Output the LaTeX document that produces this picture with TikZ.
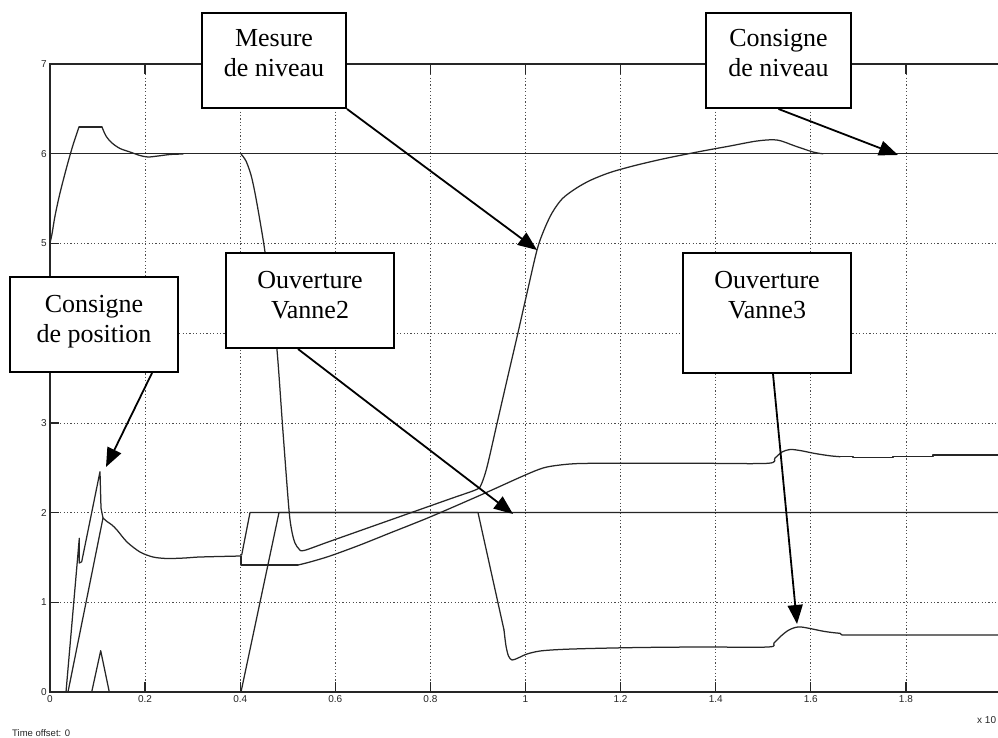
\documentclass[tikz,border=0pt]{standalone}
\usepackage{fontspec}
\setmainfont{Liberation Serif}
\newfontfamily\axisfont{Liberation Sans}
\usetikzlibrary{arrows.meta}
\begin{document}
\begin{tikzpicture}[x=1pt,y=-1pt,
  gridline/.style={draw=black!70, line width=0.8pt, dash pattern=on 1.2pt off 2.2pt},
  axisline/.style={draw=black!85, line width=1.3pt},
  trace/.style={draw=black!85, line width=1.25pt, line join=round, line cap=round},
  databox/.style={draw=black, line width=2pt, fill=white, rectangle, inner sep=0pt},
  boxtext/.style={font=\fontsize{26}{30}\selectfont, anchor=base, inner sep=0pt},
  ticklabel/.style={font=\axisfont\fontsize{10}{12}\selectfont, text=black!85, inner sep=0pt},
  pointer/.style={draw=black, line width=1.8pt, -{Triangle[length=19pt,width=15pt]}},
]
\useasboundingbox (0,0) rectangle (998,738);
\fill[white] (0,0) rectangle (998,738);

% grid (t = 0.2 steps, values 1..6)
\foreach \i in {1,...,9}
  \draw[gridline] ({50+95.1*\i},64) -- ({50+95.1*\i},692);
\foreach \j in {1,...,6}
  \draw[gridline] (50,{692-89.7*\j}) -- (998,{692-89.7*\j});

% axes and ticks
\draw[axisline] (998,64) -- (50,64) -- (50,692) -- (998,692);
\foreach \i in {1,...,9} {
  \draw[axisline] ({50+95.1*\i},692) -- ++(0,-10);
  \draw[axisline] ({50+95.1*\i},64) -- ++(0,10);
}
\foreach \j in {1,...,6}
  \draw[axisline] (50,{692-89.7*\j}) -- ++(9,0);

% tick labels
\foreach \i/\lab in {0/0,1/0.2,2/0.4,3/0.6,4/0.8,5/1,6/1.2,7/1.4,8/1.6,9/1.8}
  \node[ticklabel, anchor=north] (xl\i) at ({50+95.1*\i},695) {\lab};
\foreach \j in {0,1,2,3,5,6,7}
  \node[ticklabel, anchor=east] (yl\j) at (47,{692-89.7*\j}) {\j};
\node[ticklabel, anchor=base west, font=\axisfont\fontsize{9.5}{11}\selectfont] (toff) at (12,736) {Time offset: 0};
\node[ticklabel, anchor=west] (xexp) at (977,720) {x 10};

% level set point
\draw[trace] (50,153.8) -- (998,153.8);

% level measurement
\draw[trace] plot[smooth,tension=0.5] coordinates {(50,243) (52,234) (55,216) (60,193) (67,166) (73,145) (79,127)};
\draw[trace] (79,127) -- (102,127);
\draw[trace] plot[smooth,tension=0.5] coordinates {(102,127) (106,136) (112,143) (120,148.5) (130,152) (140,155.5) (148,157) (158,156) (170,154.5) (183,154)};
\draw[trace] plot[smooth,tension=0.5] coordinates {(241,154) (246,161) (251,175) (255,193) (260,221) (265,252) (271,300) (277,350) (283,432) (289,510) (292,532) (295,543) (299,549) (304,550.5) (330,541.3) (390,520.1) (450,498.9) (476,489.7) (481,485) (487,467) (497,423.5) (507,380) (517,337) (527,293) (537,250) (544,230) (552,213) (562,199) (575,189) (590,180.5) (610,172.5) (635,165.5) (665,158.5) (700,151.5) (730,146) (757,141) (777,140) (795,146) (813,152) (823,153.8)};

% position set point and response
\draw[trace] (66,692) -- (79.3,538.3) -- (79.3,563) -- (81.7,561.7) -- (100,471.7) -- (101,508) -- (103,518);
\draw[trace] (68,692) -- (103,518);
\draw[trace] plot[smooth,tension=0.5] coordinates {(103,518) (107,521.5) (112,525) (117,530) (127,542) (140,552) (153,557) (167,558.5) (185,558) (200,557) (241,556)};
\draw[trace] (241,556) -- (241,565) -- (298,565);
\draw[trace] plot[smooth,tension=0.5] coordinates {(298,565) (310,562) (330,556) (360,545) (390,533) (430,517) (483,494) (523,476) (543,468) (560,465) (580,463.5) (620,463.3) (700,463.3) (768,463.3) (775,458) (782,452) (790,449.5) (800,450.5) (815,453.5) (830,455.8) (840,456.7)};
\draw[trace] (840,456.7) -- (853,456.7) -- (853,457.7) -- (893,457.7) -- (893,456.7) -- (933,456.7) -- (933,455) -- (998,455);

% valve 2 opening
\draw[trace] (91.7,692) -- (100.7,650.7) -- (109.3,692) -- (241,692) -- (279,512.6) -- (998,512.6);

% valve 3 opening
\draw[trace] (241.7,555) -- (250,512.6) -- (478,512.6) -- (504,630);
\draw[trace] plot[smooth,tension=0.5] coordinates {(504,630) (506,646) (508.5,656) (512,660) (518,658) (527,654) (540,651) (560,649.5) (590,648.5) (640,647.5) (700,647) (768,647) (774,643) (781,636) (788,630.5) (795,627.5) (801,627) (810,628.5) (822,631) (832,632.5) (840,633.3)};
\draw[trace] (840,633.3) -- (842,635) -- (998,635);

% annotation boxes
\node[databox, minimum width=144pt, minimum height=95pt] (mes) at (274,60.5) {};
\node[boxtext] (mesA) at (274,47) {Mesure};
\node[boxtext] (mesB) at (274,77) {de niveau};

\node[databox, minimum width=145pt, minimum height=95pt] (cniv) at (778.5,60.5) {};
\node[boxtext] (cnivA) at (778.5,47) {Consigne};
\node[boxtext] (cnivB) at (778.5,77) {de niveau};

\node[databox, minimum width=168pt, minimum height=95pt] (v2) at (310,300.5) {};
\node[boxtext] (v2A) at (310,288) {Ouverture};
\node[boxtext] (v2B) at (310,318) {Vanne2};

\node[databox, minimum width=168pt, minimum height=120pt] (v3) at (767,313) {};
\node[boxtext] (v3A) at (767,288) {Ouverture};
\node[boxtext] (v3B) at (767,318) {Vanne3};

\node[databox, minimum width=168pt, minimum height=95pt] (pos) at (94,324.5) {};
\node[boxtext] (posA) at (94,312) {Consigne};
\node[boxtext] (posB) at (94,342) {de position};

% pointers
\coordinate (tipPos) at (106,467);
\coordinate (tipMes) at (537,250);
\coordinate (tipCniv) at (898,155);
\coordinate (tipV2) at (513,514);
\coordinate (tipV3) at (797,624);
\draw[pointer] ([xshift=58pt]pos.south) -- (tipPos);
\draw[pointer] (mes.south east) -- (tipMes);
\draw[pointer] (cniv.south) -- (tipCniv);
\draw[pointer] ([xshift=-12pt]v2.south) -- (tipV2);
\draw[pointer] ([xshift=6pt]v3.south) -- (tipV3);
\end{tikzpicture}
\end{document}
